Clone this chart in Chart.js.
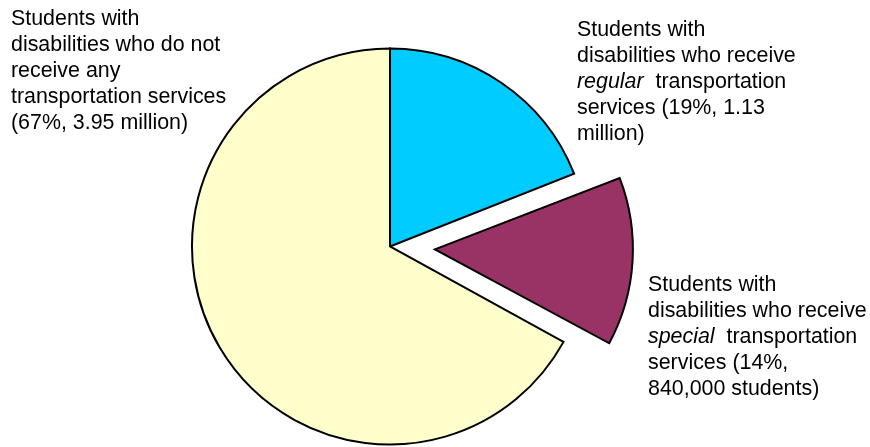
<!DOCTYPE html>
<html>
<head>
<meta charset="utf-8">
<script src="https://cdn.jsdelivr.net/npm/chart.js@4/dist/chart.umd.min.js"></script>
<style>
html,body{margin:0;padding:0;background:#fff;}
#wrap{width:870px;height:447px;position:relative;}
</style>
</head>
<body>
<div id="wrap"><canvas id="c" width="870" height="447"></canvas></div>
<script>
const categories = ["Regular transportation", "Special transportation", "No transportation services"];
const sharePercent = [19, 14, 67];
const sliceColors = ["#00CCFF", "#993366", "#FFFFCC"];
const explodeOffsets = [0, 180, 0];

// label lines: segments [text, italic]
const labelRegular = [
  [["Students with", false]],
  [["disabilities who receive", false]],
  [["regular", true], ["  transportation", false]],
  [["services (19%, 1.13", false]],
  [["million)", false]]
];
const labelSpecial = [
  [["Students with", false]],
  [["disabilities who receive", false]],
  [["special", true], ["  transportation", false]],
  [["services (14%,", false]],
  [["840,000 students)", false]]
];
const labelNone = [
  [["Students with", false]],
  [["disabilities who do not", false]],
  [["receive any", false]],
  [["transportation services", false]],
  [["(67%, 3.95 million)", false]]
];
const labelBlocks = [
  {lines: labelNone, x: 11, y: 25},
  {lines: labelRegular, x: 577, y: 36},
  {lines: labelSpecial, x: 648, y: 291}
];

const FONT = "Liberation Sans, Arial, sans-serif";
const FONT_SIZE = 21.4;
const LINE_H = 26;

const labelPlugin = {
  id: 'labels',
  afterDraw(chart) {
    const ctx = chart.ctx;
    ctx.save();
    ctx.fillStyle = '#000';
    ctx.textBaseline = 'alphabetic';
    ctx.textAlign = 'left';
    labelBlocks.forEach(b => {
      b.lines.forEach((line, i) => {
        let x = b.x;
        const y = b.y + i * LINE_H;
        line.forEach(([t, it]) => {
          ctx.font = (it ? 'italic ' : '') + FONT_SIZE + 'px ' + FONT;
          ctx.fillText(t, x, y);
          x += ctx.measureText(t).width;
        });
      });
    });
    ctx.restore();
  }
};

// keep exploded slice at the same radius as the others (Chart.js grows it otherwise)
const keepRadiusPlugin = {
  id: 'keepRadius',
  afterDatasetsUpdate(chart) {
    const meta = chart.getDatasetMeta(0);
    meta.data.forEach((arc, i) => {
      const off = (explodeOffsets[i] || 0) / 4;
      if (!off) return;
      const circ = arc.circumference;
      const fix = 1 - Math.sin(Math.min(Math.PI, circ || 0));
      arc.outerRadius = arc.outerRadius - off * fix;
    });
  }
};

new Chart(document.getElementById('c'), {
  type: 'pie',
  data: {
    labels: categories,
    datasets: [{
      data: sharePercent,
      backgroundColor: sliceColors,
      borderColor: '#000',
      borderWidth: 2,
      offset: explodeOffsets,
      borderJoinStyle: 'miter'
    }]
  },
  options: {
    responsive: false,
    animation: false,
    radius: 198,
    layout: {padding: {left: 0, right: 90, top: 46, bottom: 0}},
    plugins: {legend: {display: false}, tooltip: {enabled: false}}
  },
  plugins: [keepRadiusPlugin, labelPlugin]
});
</script>
</body>
</html>
